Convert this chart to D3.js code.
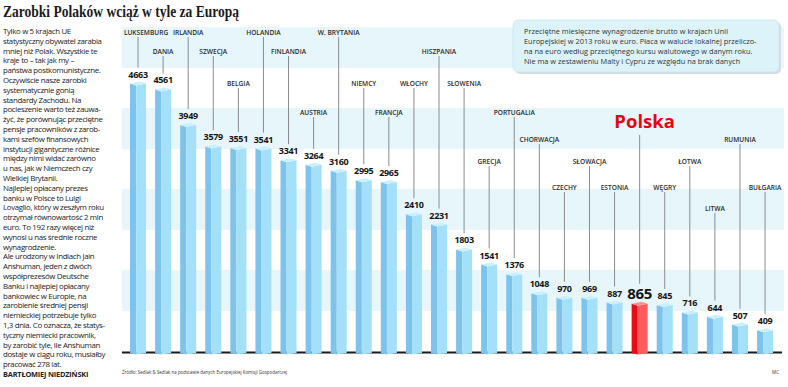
<!DOCTYPE html>
<html>
<head>
<meta charset="utf-8">
<script src="https://cdn.jsdelivr.net/npm/d3@7"></script>
<style>
  body { margin: 0; background: #fff; }
  svg { display: block; }
</style>
</head>
<body>
<svg id="chart" width="788" height="387"></svg>
<script>
// dane: przeciętne miesięczne wynagrodzenie brutto, 2013, euro
var countries = ["LUKSEMBURG", "DANIA", "IRLANDIA", "SZWECJA", "BELGIA", "HOLANDIA", "FINLANDIA",
  "AUSTRIA", "W. BRYTANIA", "NIEMCY", "FRANCJA", "WŁOCHY", "HISZPANIA", "SŁOWENIA", "GRECJA",
  "PORTUGALIA", "CHORWACJA", "CZECHY", "SŁOWACJA", "ESTONIA", "Polska", "WĘGRY", "ŁOTWA",
  "LITWA", "RUMUNIA", "BUŁGARIA"];
var salaries = [4663, 4561, 3949, 3579, 3551, 3541, 3341, 3264, 3160, 2995, 2965, 2410, 2231,
  1803, 1541, 1376, 1048, 970, 969, 887, 865, 845, 716, 644, 507, 409];
var highlight = "Polska";

var title = "Zarobki Polaków wciąż w tyle za Europą";
var noteLines = [
  "Przeciętne miesięczne wynagrodzenie brutto w krajach Unii",
  "Europejskiej w 2013 roku w euro. Płaca w walucie lokalnej przeliczo-",
  "na na euro według przeciętnego kursu walutowego w danym roku.",
  "Nie ma w zestawieniu Malty i Cypru ze względu na brak danych"
];
var articleLines = [
  "Tylko w 5 krajach UE",
  "statystyczny obywatel zarabia",
  "mniej niż Polak. Wszystkie te",
  "kraje to – tak jak my –",
  "państwa postkomunistyczne.",
  "Oczywiście nasze zarobki",
  "systematycznie gonią",
  "standardy Zachodu. Na",
  "pocieszenie warto też zauwa-",
  "żyć, że porównując przeciętne",
  "pensje pracowników z zarob-",
  "kami szefów finansowych",
  "instytucji gigantyczne różnice",
  "między nimi widać zarówno",
  "u nas, jak w Niemczech czy",
  "Wielkiej Brytanii.",
  "Najlepiej opłacany prezes",
  "banku w Polsce to Luigi",
  "Lovaglio, który w zeszłym roku",
  "otrzymał równowartość 2 mln",
  "euro. To 192 razy więcej niż",
  "wynosi u nas średnie roczne",
  "wynagrodzenie.",
  "Ale urodzony w Indiach Jain",
  "Anshuman, jeden z dwóch",
  "współprezesów Deutsche",
  "Banku i najlepiej opłacany",
  "bankowiec w Europie, na",
  "zarobienie średniej pensji",
  "niemieckiej potrzebuje tylko",
  "1,3 dnia. Co oznacza, że statys-",
  "tyczny niemiecki pracownik,",
  "by zarobić tyle, ile Anshuman",
  "dostaje w ciągu roku, musiałby",
  "pracować 278 lat."
];
var author = "BARTŁOMIEJ NIEDZIŃSKI";
var source = "Źródło: Sedlak & Sedlak na podstawie danych Europejskiej Komisji Gospodarczej";

// układ etykiet krajów (piętra nad słupkami)
var labelTier = [0, 1, 0, 1, 2, 0, 1, 3, 0, 2, 3, 2, 1, 2, 5, 3, 4, 6, 5, 6, -1, 6, 5, 7, 4, 6];
var tierY = [32, 51, 83, 112, 139, 161, 187, 208];

var svg = d3.select("#chart");
var baseY = 352;

// pasy tła
var bands = svg.append("g");
for (var i = 0; i < 4; i++) {
  bands.append("rect")
    .attr("x", 122).attr("y", 27 + i * 81)
    .attr("width", 662).attr("height", 41)
    .attr("fill", "#e6f6fb");
}

var x = d3.scaleBand().domain(countries).range([125.5, 777.6]).paddingInner(0.36).paddingOuter(0.18);
var y = d3.scaleLinear().domain([0, 5000]).range([baseY, baseY - 290]);
var bw = x.bandwidth();

// linia bazowa
svg.append("line")
  .attr("x1", 122).attr("x2", 782)
  .attr("y1", baseY + 0.5).attr("y2", baseY + 0.5)
  .attr("stroke", "#1b1b1b").attr("stroke-width", 2);

var data = countries.map(function(c, i) { return { name: c, value: salaries[i], tier: labelTier[i] }; });

var bar = svg.append("g").selectAll("g")
  .data(data).enter().append("g");

function cx(d) { return x(d.name) + bw / 2; }

bar.append("path")
  .attr("fill", function(d) { return d.name === highlight ? "#ec0a14" : "#7ec3ec"; })
  .attr("d", function(d) {
    var l = x(d.name), m = l + bw * 0.38, t = y(d.value);
    return "M" + l + "," + (t + 2) + "L" + m + "," + (t + 4) + "L" + m + "," + (baseY + 2.5) + "L" + l + "," + (baseY + 1) + "Z";
  });
bar.append("path")
  .attr("fill", function(d) { return d.name === highlight ? "#ff5c5c" : "#a4e1f8"; })
  .attr("d", function(d) {
    var l = x(d.name), m = l + bw * 0.38, r = l + bw, t = y(d.value);
    return "M" + m + "," + (t + 4) + "L" + r + "," + (t + 2) + "L" + r + "," + (baseY + 1) + "L" + m + "," + (baseY + 2.5) + "Z";
  });
bar.append("path")
  .attr("fill", function(d) { return d.name === highlight ? "#ff9090" : "#c9f0fc"; })
  .attr("d", function(d) {
    var l = x(d.name), m = l + bw * 0.38, r = l + bw, t = y(d.value);
    return "M" + l + "," + (t + 2) + "L" + m + "," + (t + 4) + "L" + r + "," + (t + 2) + "L" + (r - bw * 0.38) + "," + t + "Z";
  });

// wartości
bar.append("text")
  .attr("x", cx)
  .attr("y", function(d) { return y(d.value) - (d.name === highlight ? 3 : 4); })
  .attr("text-anchor", "middle")
  .attr("font-family", "'Open Sans', sans-serif")
  .attr("font-weight", "bold")
  .attr("font-size", function(d) { return d.name === highlight ? 15 : 9; })
  .attr("letter-spacing", -0.3)
  .attr("fill", "#151515")
  .text(function(d) { return d.value; });

// linie odniesienia
bar.append("line")
  .attr("x1", cx).attr("x2", cx)
  .attr("y1", function(d) { return d.tier < 0 ? 135 : tierY[d.tier] + 5; })
  .attr("y2", function(d) { return y(d.value) - (d.name === highlight ? 18 : 14); })
  .attr("stroke", "#8c8c8c").attr("stroke-width", 1);

// nazwy krajów
bar.append("text")
  .attr("x", function(d, i) { return cx(d) + (i === 0 ? 8 : (d.tier < 0 ? 5 : 0)); })
  .attr("y", function(d) { return d.tier < 0 ? 127.5 : tierY[d.tier] + 2.5; })
  .attr("text-anchor", "middle")
  .attr("font-family", "'Open Sans', sans-serif")
  .attr("font-weight", function(d) { return d.tier < 0 ? "bold" : 600; })
  .attr("font-size", function(d) { return d.tier < 0 ? 18.5 : 6.6; })
  .attr("fill", function(d) { return d.tier < 0 ? "#e30613" : "#2a2a2a"; })
  .text(function(d) { return d.name; });

// ramka z opisem
svg.append("rect")
  .attr("x", 515).attr("y", 22).attr("width", 266).attr("height", 52).attr("rx", 5)
  .attr("fill", "#d5dde0");
svg.append("rect")
  .attr("x", 513).attr("y", 20).attr("width", 266).attr("height", 52).attr("rx", 5)
  .attr("fill", "#dcf3fa").attr("stroke", "#c3e4ee").attr("stroke-width", 0.6);
svg.append("g").selectAll("text")
  .data(noteLines).enter().append("text")
  .attr("x", 524).attr("y", function(d, i) { return 34 + i * 10; })
  .attr("font-family", "'Open Sans', sans-serif")
  .attr("font-size", 7.4)
  .attr("fill", "#333")
  .text(function(d) { return d; });

// tytuł
svg.append("text")
  .attr("x", 3).attr("y", 17)
  .attr("font-family", "'Liberation Serif', serif")
  .attr("font-weight", "bold")
  .attr("font-size", 16)
  .attr("textLength", 236).attr("lengthAdjust", "spacingAndGlyphs")
  .attr("fill", "#1a1a1a")
  .text(title);

// tekst artykułu
svg.append("g").selectAll("text")
  .data(articleLines).enter().append("text")
  .attr("x", 3).attr("y", function(d, i) { return 34 + i * 9.8; })
  .attr("font-family", "'Open Sans', sans-serif")
  .attr("font-size", 7.9)
  .attr("letter-spacing", -0.35)
  .attr("fill", "#222")
  .text(function(d) { return d; });
svg.append("text")
  .attr("x", 3).attr("y", 34 + articleLines.length * 9.8)
  .attr("font-family", "'Open Sans', sans-serif")
  .attr("font-weight", "bold")
  .attr("font-size", 7.4)
  .attr("letter-spacing", -0.2)
  .attr("fill", "#222")
  .text(author);

// źródło
svg.append("text")
  .attr("x", 122).attr("y", 374)
  .attr("font-family", "'Open Sans', sans-serif")
  .attr("font-size", 5.6)
  .attr("textLength", 165).attr("lengthAdjust", "spacingAndGlyphs")
  .attr("fill", "#333")
  .text(source);
svg.append("text")
  .attr("x", 779).attr("y", 374)
  .attr("text-anchor", "end")
  .attr("font-family", "'Open Sans', sans-serif")
  .attr("font-size", 4.5)
  .attr("fill", "#333")
  .text("MC");
</script>
</body>
</html>
